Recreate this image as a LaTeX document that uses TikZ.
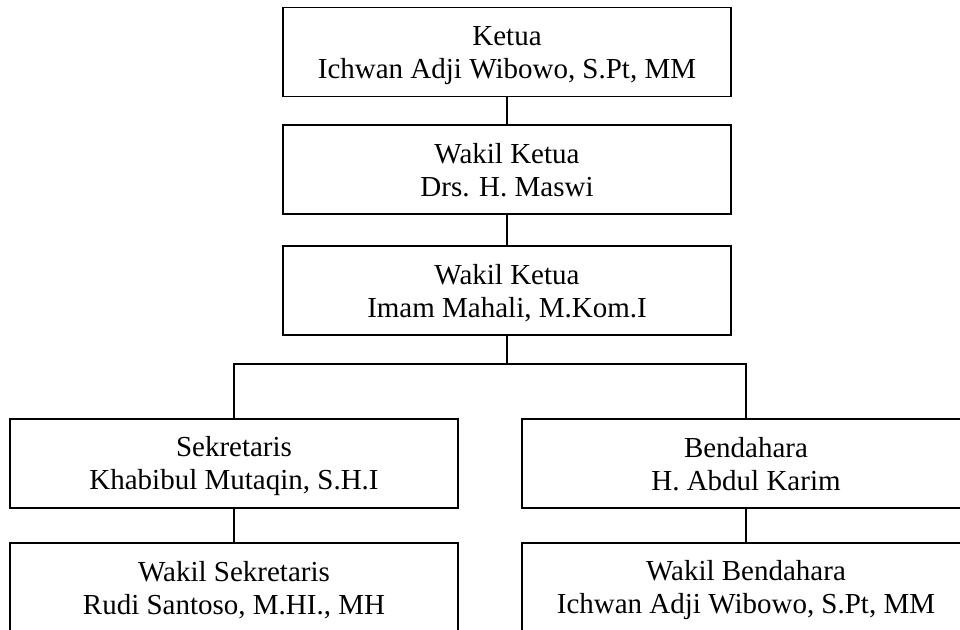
\documentclass[tikz,border=0pt]{standalone}
\usepackage{fontspec}
\setmainfont{Liberation Serif}
% strut giving each line a fixed ascent/descent so the text block centres evenly
\newcommand\rowstrut{\rule[-6pt]{0pt}{32pt}}
\begin{document}
\begin{tikzpicture}[x=1pt,y=-1pt,
  orgbox/.style={draw=black, line width=1.6pt, minimum width=448pt, minimum height=89pt,
    inner sep=0pt, align=center, font=\fontsize{29}{33}\selectfont},
  link/.style={draw=black, line width=1.6pt}]
  \useasboundingbox (0,0) rectangle (960,629);
  \clip (0,0) rectangle (960,629);
  \fill[white] (0,0) rectangle (960,629);

  \node[orgbox] (ketua) at (507,52)    {\rowstrut Ketua\\\rowstrut Ichwan Adji Wibowo, S.Pt, MM};
  \node[orgbox] (wk1)   at (507,169.5) {\rowstrut Wakil Ketua\\\rowstrut Drs. H. Maswi};
  \node[orgbox] (wk2)   at (507,290.5) {\rowstrut Wakil Ketua\\\rowstrut Imam Mahali, M.Kom.I};
  \node[orgbox] (sek)   at (234,463.5) {\rowstrut Sekretaris\\\rowstrut Khabibul Mutaqin, S.H.I};
  \node[orgbox] (ben)   at (746,463.5) {\rowstrut Bendahara\\\rowstrut H. Abdul Karim};
  \node[orgbox] (wsek)  at (234,587.5) {\rowstrut Wakil Sekretaris\\\rowstrut Rudi Santoso, M.HI., MH};
  \node[orgbox] (wben)  at (746,587.5) {\rowstrut Wakil Bendahara\\\rowstrut Ichwan Adji Wibowo, S.Pt, MM};

  \coordinate (hub) at (507,364);
  \draw[link] (ketua.south) -- (wk1.north);
  \draw[link] (wk1.south) -- (wk2.north);
  \draw[link] (wk2.south) -- (hub);
  \draw[link] (sek.north) |- (hub) -| (ben.north);
  \draw[link] (sek.south) -- (wsek.north);
  \draw[link] (ben.south) -- (wben.north);
\end{tikzpicture}
\end{document}
